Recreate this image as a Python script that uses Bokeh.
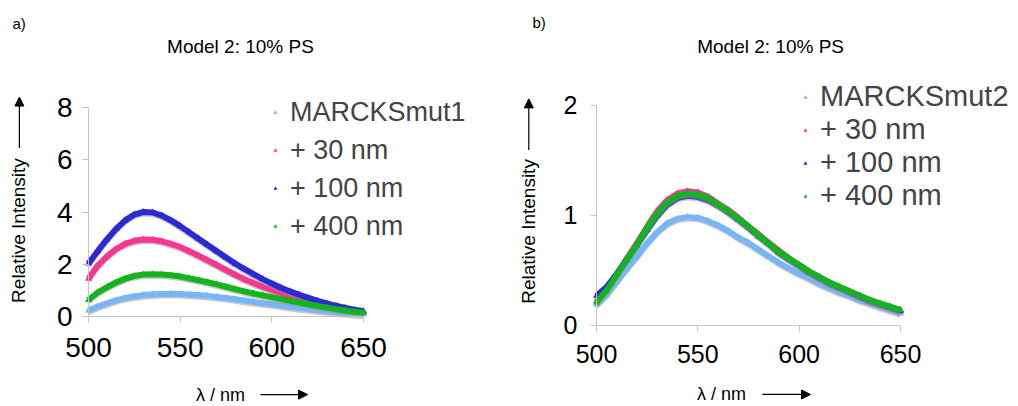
from bokeh.plotting import figure
from bokeh.models import Range1d, FixedTicker, Label, Arrow, NormalHead, Legend, LegendItem, LinearAxis
from bokeh.layouts import row
from bokeh.embed import file_html
from bokeh.resources import INLINE

# wavelength (nm)
wl = [500, 505, 510, 515, 520, 525, 530, 535, 540, 545, 550, 555, 560, 565, 570, 575,
      580, 585, 590, 595, 600, 605, 610, 615, 620, 625, 630, 635, 640, 645, 650]

# Panel a) MARCKSmut1
a_mut1 = [0.23, 0.38, 0.50, 0.62, 0.71, 0.77, 0.82, 0.85, 0.86, 0.87, 0.86, 0.84, 0.82, 0.79, 0.75, 0.71,
          0.66, 0.61, 0.56, 0.51, 0.47, 0.42, 0.37, 0.32, 0.28, 0.24, 0.20, 0.16, 0.13, 0.10, 0.08]
a_30 = [1.45, 1.95, 2.30, 2.58, 2.78, 2.90, 2.95, 2.94, 2.88, 2.78, 2.66, 2.50, 2.33, 2.15, 1.97, 1.78,
        1.60, 1.43, 1.28, 1.14, 1.02, 0.90, 0.79, 0.69, 0.59, 0.50, 0.42, 0.35, 0.28, 0.22, 0.17]
a_100 = [2.03, 2.50, 2.95, 3.35, 3.68, 3.90, 4.00, 3.98, 3.86, 3.68, 3.46, 3.22, 2.98, 2.74, 2.50, 2.26,
         2.03, 1.82, 1.62, 1.43, 1.26, 1.10, 0.96, 0.83, 0.71, 0.60, 0.50, 0.41, 0.33, 0.26, 0.20]
a_400 = [0.63, 0.92, 1.12, 1.30, 1.45, 1.55, 1.61, 1.62, 1.61, 1.58, 1.53, 1.46, 1.39, 1.31, 1.23, 1.14,
         1.05, 0.96, 0.88, 0.81, 0.74, 0.67, 0.60, 0.53, 0.46, 0.40, 0.34, 0.28, 0.23, 0.18, 0.14]

# Panel b) MARCKSmut2
b_mut2 = [0.19, 0.28, 0.40, 0.52, 0.63, 0.75, 0.85, 0.93, 0.97, 0.985, 0.98, 0.95, 0.91, 0.86, 0.80, 0.75,
          0.69, 0.63, 0.57, 0.52, 0.47, 0.43, 0.38, 0.34, 0.30, 0.27, 0.23, 0.20, 0.17, 0.14, 0.11]
b_30 = [0.22, 0.33, 0.46, 0.61, 0.75, 0.90, 1.04, 1.14, 1.20, 1.22, 1.21, 1.17, 1.11, 1.05, 0.98, 0.90,
        0.83, 0.75, 0.68, 0.61, 0.55, 0.49, 0.44, 0.39, 0.35, 0.31, 0.27, 0.23, 0.20, 0.17, 0.14]
b_100 = [0.27, 0.35, 0.47, 0.60, 0.73, 0.87, 1.00, 1.10, 1.16, 1.18, 1.17, 1.14, 1.09, 1.03, 0.96, 0.89,
         0.81, 0.74, 0.66, 0.60, 0.54, 0.48, 0.43, 0.38, 0.34, 0.30, 0.26, 0.22, 0.19, 0.16, 0.13]
b_400 = [0.21, 0.32, 0.46, 0.60, 0.74, 0.89, 1.02, 1.12, 1.18, 1.20, 1.19, 1.16, 1.10, 1.04, 0.97, 0.90,
         0.82, 0.75, 0.67, 0.61, 0.55, 0.49, 0.44, 0.39, 0.35, 0.31, 0.27, 0.23, 0.20, 0.17, 0.14]

labels_a = ["MARCKSmut1", "+ 30 nm", "+ 100 nm", "+ 400 nm"]
labels_b = ["MARCKSmut2", "+ 30 nm", "+ 100 nm", "+ 400 nm"]
colors = ["#78b6f8", "#f5378f", "#2b2bd3", "#14b41e"]
x_ticks = [500, 550, 600, 650]
ya_ticks = [0, 2, 4, 6, 8]
yb_ticks = [0, 1, 2]

FONT = "Liberation Sans"
AXC = "#c4c4c4"


def make_fig(width, xr, yr):
    p = figure(width=width, height=406, x_range=Range1d(*xr), y_range=Range1d(*yr),
               output_backend="svg", toolbar_location=None,
               x_axis_location=None, y_axis_location=None,
               min_border_left=0, min_border_right=0, min_border_top=0, min_border_bottom=0)
    p.outline_line_color = None
    p.grid.visible = False
    return p


def add_axes(p, xt, yt, ybounds, xfs, yfs, xsoff, ysoff):
    ax = LinearAxis(fixed_location=0, bounds=(500, 650), ticker=FixedTicker(ticks=xt))
    ay = LinearAxis(fixed_location=500, bounds=ybounds, ticker=FixedTicker(ticks=yt))
    for a, fs, so in ((ax, xfs, xsoff), (ay, yfs, ysoff)):
        a.axis_line_color = AXC
        a.major_tick_line_color = AXC
        a.major_tick_out = 6
        a.major_tick_in = 0
        a.minor_tick_line_color = None
        a.major_label_text_font = FONT
        a.major_label_text_font_size = fs
        a.major_label_text_color = "black"
        a.major_label_standoff = so
    p.add_layout(ax, "below")
    p.add_layout(ay, "left")


def add_series(p, series, labels, shadow):
    items = []
    for ys, c, lab in zip(series, colors, labels):
        p.line(wl, [v - shadow for v in ys], color="#9a9a9a", line_width=5, alpha=0.55)
        p.line(wl, ys, color=c, line_width=6)
        r = p.scatter(wl, ys, marker="triangle", size=7, color=c, line_color=None)
        items.append(LegendItem(label=lab, renderers=[r]))
    return items


def arrow(p, x0, y0, x1, y1):
    p.add_layout(Arrow(end=NormalHead(size=9, fill_color="black", line_color="black"),
                       x_start=x0, y_start=y0, x_end=x1, y_end=y1, line_width=1.2,
                       line_color="black"))


def text(p, x, y, s, size, angle=0.0, align="center"):
    p.add_layout(Label(x=x, y=y, text=s, angle=angle, text_font=FONT, text_font_size=size,
                       text_align=align, text_baseline="middle", text_color="black"))


# ---------------- panel a ----------------
pa = make_fig(510, (452.0, 730.18), (-3.445, 12.096))
add_axes(pa, x_ticks, ya_ticks, (0, 8), "28px", "28px", 15, 10)
items_a = add_series(pa, [a_mut1, a_30, a_100, a_400], labels_a, 0.08)
pa.add_layout(Legend(items=items_a, location=(270, 161), spacing=0, padding=0, margin=0,
                     glyph_width=10, glyph_height=38, label_height=38, label_standoff=10,
                     label_text_font=FONT, label_text_font_size="27px",
                     background_fill_alpha=0, border_line_color=None))
text(pa, 458.5, 11.2, "a)", "15px", align="left")
text(pa, 582.9, 10.33, "Model 2: 10% PS", "19px")
text(pa, 461.8, 3.29, "Relative Intensity", "19px", angle=1.5708)
arrow(pa, 462.3, 6.45, 462.3, 8.4)
text(pa, 572.0, -2.99, "λ / nm", "18px")
arrow(pa, 593.8, -2.99, 619.5, -2.99)

# ---------------- panel b ----------------
pb = make_fig(508, (457.57, 708.22), (-0.73636, 2.9545))
add_axes(pb, x_ticks, yb_ticks, (0, 2), "25px", "25px", 14, 13)
items_b = add_series(pb, [b_mut2, b_30, b_100, b_400], labels_b, 0.018)
pb.add_layout(Legend(items=items_b, location=(290, 194), spacing=0, padding=0, margin=0,
                     glyph_width=10, glyph_height=32, label_height=32, label_standoff=10,
                     label_text_font=FONT, label_text_font_size="29px",
                     background_fill_alpha=0, border_line_color=None))
text(pb, 468.4, 2.755, "b)", "15px", align="left")
text(pb, 585.9, 2.536, "Model 2: 10% PS", "19px")
text(pb, 466.4, 0.855, "Relative Intensity", "19px", angle=1.5708)
arrow(pb, 466.6, 1.595, 466.6, 2.06)
text(pb, 561.7, -0.627, "λ / nm", "18px")
arrow(pb, 581.9, -0.627, 605.6, -0.627)

layout = row(pa, pb)
open("out.html", "w").write(file_html(layout, INLINE))
